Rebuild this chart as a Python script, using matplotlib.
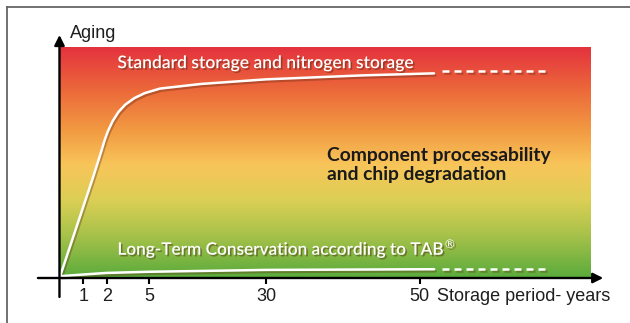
import numpy as np
import matplotlib.pyplot as plt
import matplotlib.patheffects as pe
from matplotlib.colors import LinearSegmentedColormap
from matplotlib.lines import Line2D

# storage period axis: tick positions (in % of box width) and labels
tick_pos = [4.5, 9.0, 16.9, 38.9, 67.8]
tick_lbl = ["1", "2", "5", "30", "50"]

# aging curves (x = position along period axis, y = aging in % of box height)
std_x = [0.2, 2.6, 4.48, 6.36, 7.94, 8.5, 9.1, 10.0, 11.1, 12.4, 14.1, 16.0, 18.9, 26.6, 38.85, 56.84, 70.46]
std_y = [1.3, 17.9, 30.9, 43.9, 55.4, 59.7, 63.5, 67.9, 71.9, 75.1, 77.9, 80.0, 82.0, 84.0, 86.0, 87.7, 88.6]
std_dash_x = [72.0, 91.5]
std_dash_y = [89.7, 89.7]

tab_x = [0.2, 4.4, 8.9, 16.9, 38.9, 70.5]
tab_y = [0.8, 1.5, 2.2, 2.7, 3.5, 3.8]
tab_dash_x = [72.0, 91.5]
tab_dash_y = [4.1, 4.1]

# background gradient, bottom -> top
grad_stops = [0.0, 0.186, 0.338, 0.49, 0.64, 0.81, 1.0]
grad_cols = ["#5aab3c", "#a8c24a", "#dccf55", "#f8c55a", "#f29a42", "#ec6a3a", "#e4323e"]

fig = plt.figure(figsize=(6.3, 3.23), dpi=100)
ax = fig.add_axes([0, 0, 1, 1])
ax.set_xlim(-11.19, 107.34)
ax.set_ylim(-19.48, 120.35)
ax.axis("off")

cmap = LinearSegmentedColormap.from_list("aging", list(zip(grad_stops, grad_cols)))
grad = np.linspace(0, 1, 256).reshape(-1, 1)
ax.imshow(grad, cmap=cmap, origin="lower", extent=(0, 100, 0, 100), aspect="auto", zorder=1)

shadow = [pe.SimpleLineShadow(offset=(1, -1.5), shadow_color="#5a2a10", alpha=0.35), pe.Normal()]
for xs, ys, dx, dy in [(std_x, std_y, std_dash_x, std_dash_y), (tab_x, tab_y, tab_dash_x, tab_dash_y)]:
    ax.plot(xs, ys, color="white", lw=1.8, solid_capstyle="round", solid_joinstyle="round",
            zorder=3, path_effects=shadow)
    ax.plot(dx, dy, color="white", lw=1.8, ls=(0, (2.8, 2.0)), zorder=3, path_effects=shadow)

# axes with arrows
ax.annotate("", xy=(102.3, 0), xytext=(-4.05, 0),
            arrowprops=dict(arrowstyle="-|>", lw=1.7, color="black", mutation_scale=15, shrinkA=0, shrinkB=0), zorder=4)
ax.annotate("", xy=(0, 105.2), xytext=(0, -8.2),
            arrowprops=dict(arrowstyle="-|>", lw=1.7, color="black", mutation_scale=15, shrinkA=0, shrinkB=0), zorder=4)
ax.vlines(tick_pos, -2.8, 0, color="black", lw=1.5, zorder=4)
for p, l in zip(tick_pos, tick_lbl):
    ax.text(p, -7.8, l, ha="center", va="center", fontsize=13, family="Liberation Sans", color="#1e1e1e")

ax.text(71.1, -7.8, "Storage period- years", ha="left", va="center", fontsize=13,
        family="Liberation Sans", color="#1e1e1e")
ax.text(2.0, 105.7, "Aging", ha="left", va="center", fontsize=13, family="Liberation Sans", color="#1e1e1e")

txt_shadow = [pe.withSimplePatchShadow(offset=(1.2, -1.2), shadow_rgbFace="#4a2a10", alpha=0.45)]
ax.text(10.9, 93.0, "Standard storage and nitrogen storage", ha="left", va="center", fontsize=12.6,
        family="Lato", weight="semibold", color="white", path_effects=txt_shadow, zorder=5)
ax.text(10.9, 12.99, r"Long-Term Conservation according to TAB$^{\circledR}$", ha="left", va="center",
        fontsize=12.4, family="Lato", weight="semibold", color="white", path_effects=txt_shadow, zorder=5)

ax.text(50.4, 49.1, "Component processability\nand chip degradation", ha="left", va="center",
        fontsize=13.9, family="Lato", weight="bold", color="#1a1a1a", linespacing=1.15, zorder=5)

# frame
fig.add_artist(Line2D([7.3 / 630, 1], [1 - 7.3 / 323, 1 - 7.3 / 323], color="#666666", lw=1.3, transform=fig.transFigure))
fig.add_artist(Line2D([7.3 / 630, 7.3 / 630], [0, 1 - 7.3 / 323], color="#666666", lw=1.3, transform=fig.transFigure))

fig.savefig("out.png", dpi=100)
